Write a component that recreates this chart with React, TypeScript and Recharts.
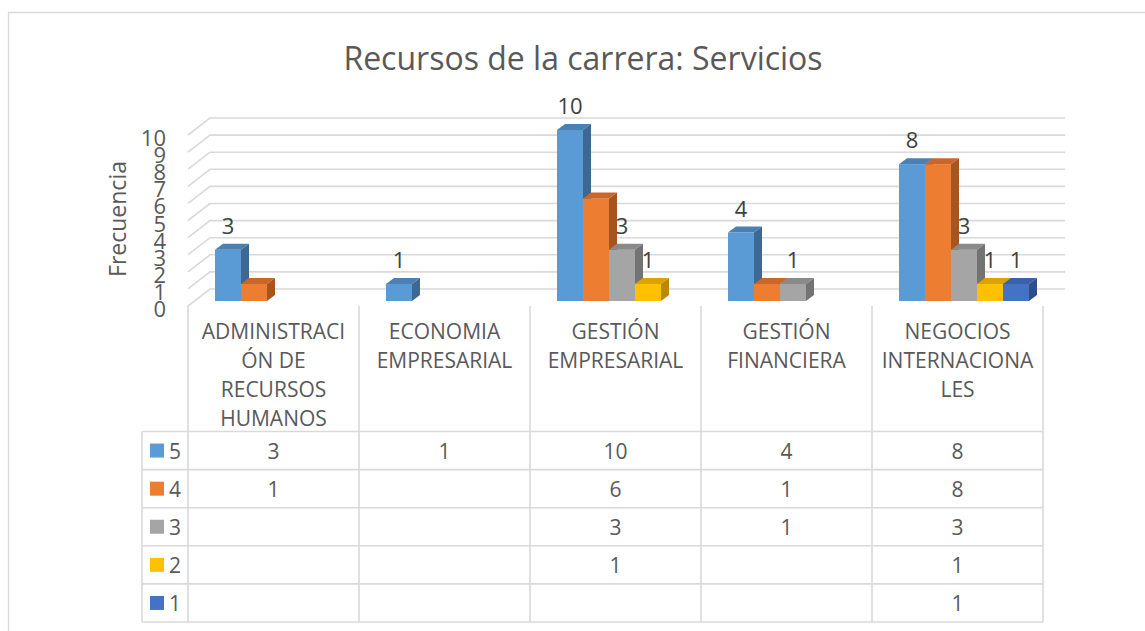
import React from 'react';
import { BarChart, Bar, XAxis, YAxis, CartesianGrid, LabelList } from 'recharts';

// ---------- data ----------
const categories = [
  'ADMINISTRACIÓN DE RECURSOS HUMANOS',
  'ECONOMIA EMPRESARIAL',
  'GESTIÓN EMPRESARIAL',
  'GESTIÓN FINANCIERA',
  'NEGOCIOS INTERNACIONALES',
];
const categoryLines = [
  ['ADMINISTRACI', 'ÓN DE', 'RECURSOS', 'HUMANOS'],
  ['ECONOMIA', 'EMPRESARIAL'],
  ['GESTIÓN', 'EMPRESARIAL'],
  ['GESTIÓN', 'FINANCIERA'],
  ['NEGOCIOS', 'INTERNACIONA', 'LES'],
];
const seriesNames = ['5', '4', '3', '2', '1'];
const s5: (number | null)[] = [3, 1, 10, 4, 8];
const s4: (number | null)[] = [1, null, 6, 1, 8];
const s3: (number | null)[] = [null, null, 3, 1, 3];
const s2: (number | null)[] = [null, null, 1, null, 1];
const s1: (number | null)[] = [null, null, null, null, 1];
const yTicks = [0, 1, 2, 3, 4, 5, 6, 7, 8, 9, 10];
const titleText = 'Recursos de la carrera: Servicios';
const yAxisTitle = 'Frecuencia';

// ---------- styles ----------
const FONT = '"Open Sans", "Noto Sans", sans-serif';
const TEXT = '#595959';
const GRID = '#d9d9d9';
const seriesStyle = [
  { key: 's5', front: '#5B9BD5', top: '#4B80B3', side: '#3D6893', label: true },
  { key: 's4', front: '#ED7D31', top: '#C9672A', side: '#A8541F', label: false },
  { key: 's3', front: '#A5A5A5', top: '#8A8A8A', side: '#737373', label: true },
  { key: 's2', front: '#FFC000', top: '#D9A300', side: '#B88A00', label: true },
  { key: 's1', front: '#4472C4', top: '#3A61A6', side: '#2E4E88', label: true },
];
const seriesValues = [s5, s4, s3, s2, s1];

const data = categories.map((name, i) => ({
  name,
  s5: s5[i],
  s4: s4[i],
  s3: s3[i],
  s2: s2[i],
  s1: s1[i],
}));

// ---------- layout ----------
const W = 1145;
const H = 631;
const PLOT_L = 195;
const PLOT_R = 1050;
const PLOT_T = 130;
const PLOT_B = 301;
const XAXIS_H = 30;
const SHIFT_X = 7; // bars sit in the middle depth: front edge is 7px left, 5px lower
const SHIFT_Y = 5;
const DEPTH_X = 22; // wall depth
const DEPTH_Y = 17;
const BAR_DX = 8;
const BAR_DY = 6;
const COL_W = (PLOT_R - PLOT_L) / categories.length;
const FRONT_L = PLOT_L - SHIFT_X;
const FLOOR_Y = PLOT_B + SHIFT_Y;
const TABLE_T = 431.5;
const ROW_H = 38.1;
const LEGEND_L = 142;

const GridLine = (props: any) => {
  const { x1, x2, y1 } = props;
  const fx = x1 - SHIFT_X;
  const fy = y1 + SHIFT_Y;
  const bx = fx + DEPTH_X;
  const by = fy - DEPTH_Y;
  const ex = x2 - SHIFT_X + DEPTH_X;
  return (
    <polyline
      key={props.key}
      points={`${fx},${fy} ${bx},${by} ${ex},${by}`}
      fill="none"
      stroke={GRID}
      strokeWidth={1.6}
    />
  );
};

const makeShape = (st: any) => (props: any) => {
  const { x, y, width, height } = props;
  if (height == null || !(height > 0.5)) return <g />;
  const r = x + width;
  const b = y + height;
  return (
    <g>
      <rect x={x} y={y} width={width} height={height} fill={st.front} />
      <polygon
        points={`${x},${y} ${x + BAR_DX},${y - BAR_DY} ${r + BAR_DX},${y - BAR_DY} ${r},${y}`}
        fill={st.top}
      />
      <polygon
        points={`${r},${y} ${r + BAR_DX},${y - BAR_DY} ${r + BAR_DX},${b - BAR_DY} ${r},${b}`}
        fill={st.side}
      />
    </g>
  );
};

const DataLabel = (props: any) => {
  const { x, y, width, value } = props;
  if (value == null) return null;
  return (
    <text
      x={x + width / 2}
      y={y - 25}
      textAnchor="middle"
      dominantBaseline="central"
      fontFamily={FONT}
      fontSize={22}
      fill="#404040"
    >
      {value}
    </text>
  );
};

const YTick = (props: any) => {
  const { y, payload } = props;
  return (
    <text
      x={166}
      y={y + SHIFT_Y + 2}
      textAnchor="end"
      dominantBaseline="central"
      fontFamily={FONT}
      fontSize={22}
      fill={TEXT}
    >
      {payload.value}
    </text>
  );
};

const XTick = (props: any) => {
  const { x, payload } = props;
  const i = categories.indexOf(payload.value);
  if (i < 0) return null;
  const cx = x - SHIFT_X;
  return (
    <g>
      {categoryLines[i].map((t, k) => (
        <text
          key={'c' + k}
          x={cx}
          y={339 + k * 29}
          textAnchor="middle"
          fontFamily={FONT}
          fontSize={21}
          fill={TEXT}
        >
          {t}
        </text>
      ))}
      {seriesValues.map((vals, r) =>
        vals[i] == null ? null : (
          <text
            key={'v' + r}
            x={cx}
            y={TABLE_T + r * ROW_H + ROW_H / 2}
            textAnchor="middle"
            dominantBaseline="central"
            fontFamily={FONT}
            fontSize={21}
            fill={TEXT}
          >
            {vals[i]}
          </text>
        )
      )}
    </g>
  );
};

const Overlay = () => {
  const cols = categories.map((_, i) => FRONT_L + i * COL_W);
  cols.push(FRONT_L + categories.length * COL_W);
  const right = cols[cols.length - 1];
  const rows = seriesNames.map((_, r) => TABLE_T + r * ROW_H);
  rows.push(TABLE_T + seriesNames.length * ROW_H);
  return (
    <svg width={W} height={H} style={{ position: 'absolute', left: 0, top: 0 }}>
      <rect x={0} y={0} width={W} height={H} fill="#ffffff" />
      <polyline points={`8.5,${H} 8.5,12.5 ${W},12.5`} fill="none" stroke={GRID} strokeWidth={1.3} />
      <text
        x={583}
        y={57}
        textAnchor="middle"
        dominantBaseline="central"
        fontFamily={FONT}
        fontSize={32}
        fill={TEXT}
      >
        {titleText}
      </text>
      <text
        x={117}
        y={219}
        textAnchor="middle"
        dominantBaseline="central"
        fontFamily={FONT}
        fontSize={23}
        fill={TEXT}
        transform={`rotate(-90 117 219)`}
      >
        {yAxisTitle}
      </text>
      {cols.map((cx, i) => (
        <line key={'vc' + i} x1={cx} y1={FLOOR_Y} x2={cx} y2={rows[rows.length - 1]} stroke={GRID} strokeWidth={1.6} />
      ))}
      <line x1={LEGEND_L} y1={TABLE_T} x2={LEGEND_L} y2={rows[rows.length - 1]} stroke={GRID} strokeWidth={1.6} />
      {rows.map((ry, i) => (
        <line key={'hr' + i} x1={LEGEND_L} y1={ry} x2={right} y2={ry} stroke={GRID} strokeWidth={1.6} />
      ))}
      {seriesNames.map((n, r) => (
        <g key={'lg' + r}>
          <rect x={150} y={TABLE_T + r * ROW_H + ROW_H / 2 - 7} width={14} height={14} fill={seriesStyle[r].front} />
          <text
            x={169}
            y={TABLE_T + r * ROW_H + ROW_H / 2}
            dominantBaseline="central"
            fontFamily={FONT}
            fontSize={21}
            fill={TEXT}
          >
            {n}
          </text>
        </g>
      ))}
    </svg>
  );
};

export default function App() {
  return (
    <div style={{ position: 'absolute', left: 0, top: 0, width: W, height: H, overflow: 'hidden' }}>
      <Overlay />
      <div style={{ position: 'absolute', left: 0, top: 0 }}>
        <BarChart
          width={W}
          height={H}
          data={data}
          margin={{ top: PLOT_T, right: W - PLOT_R, bottom: H - PLOT_B - XAXIS_H, left: PLOT_L - 60 }}
          barCategoryGap={20}
          barGap={0}
        >
          <CartesianGrid vertical={false} horizontal={GridLine} />
          <XAxis
            dataKey="name"
            type="category"
            height={XAXIS_H}
            axisLine={false}
            tickLine={false}
            interval={0}
            tick={XTick}
          />
          <YAxis
            type="number"
            domain={[0, 10]}
            ticks={yTicks}
            interval={0}
            width={60}
            axisLine={false}
            tickLine={false}
            tick={YTick}
          />
          {seriesStyle.map((st) => (
            <Bar
              key={st.key}
              dataKey={st.key}
              fill={st.front}
              isAnimationActive={false}
              shape={makeShape(st)}
            >
              {st.label ? <LabelList dataKey={st.key} content={DataLabel} /> : null}
            </Bar>
          ))}
        </BarChart>
      </div>
    </div>
  );
}
